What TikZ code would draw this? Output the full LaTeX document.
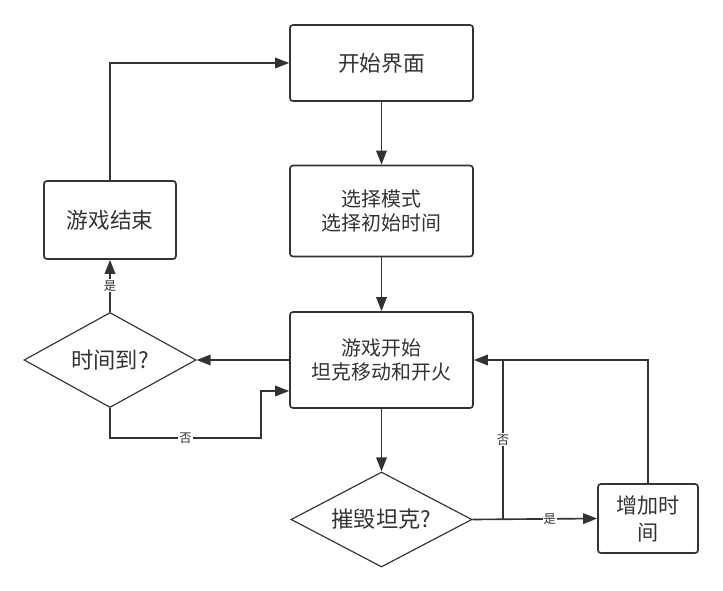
\documentclass[tikz,border=0pt]{standalone}
\usepackage{fontspec}
\newfontfamily\cjk{Noto Sans CJK SC}
\usetikzlibrary{arrows.meta, shapes.geometric, calc}

\begin{document}
\begin{tikzpicture}[
    x=0.03cm, y=-0.03cm,
    every node/.style={font=\cjk, text=ink},
    box/.style={draw=ink, line width=1.4pt, rounded corners=2.5pt,
        align=center, inner sep=2pt},
    decision/.style={diamond, draw=ink, line width=1pt, inner sep=0pt,
        aspect=1.9},
    flow/.style={draw=ink, line width=1.4pt,
        -{Triangle[length=12pt, width=9pt]}},
    lbl/.style={fill=white, inner sep=1pt, font=\cjk\fontsize{10.5pt}{12pt}\selectfont},
]

\definecolor{ink}{HTML}{333333}

\useasboundingbox (0,0) rectangle (723,591);

% ---------------------------------------------------------------- main column
\node[box, minimum width=5.49cm, minimum height=2.28cm,
    font=\cjk\fontsize{18.5pt}{22pt}\selectfont] (start) at (381.5,63) {开始界面};
\node[box, minimum width=5.49cm, minimum height=2.73cm,
    font=\cjk\fontsize{17pt}{20.5pt}\selectfont] (choose) at (381.5,211)
    {选择模式\\选择初始时间};
\node[box, minimum width=5.49cm, minimum height=2.88cm,
    font=\cjk\fontsize{17pt}{20.5pt}\selectfont] (play) at (381.5,360)
    {游戏开始\\坦克移动和开火};
\node[decision, minimum width=5.43cm, minimum height=2.85cm,
    font=\cjk\fontsize{19pt}{22pt}\selectfont] (destroy) at (381.5,519.5) {摧毁坦克?};

% ---------------------------------------------------------------- left side
\node[decision, minimum width=5.16cm, minimum height=2.85cm,
    font=\cjk\fontsize{19pt}{22pt}\selectfont] (timeup) at (110,360) {时间到?};
\node[box, minimum width=3.96cm, minimum height=2.34cm,
    font=\cjk\fontsize{18.5pt}{22pt}\selectfont] (gameover) at (110,220) {游戏结束};

% ---------------------------------------------------------------- right side
\node[box, minimum width=3.0cm, minimum height=2.07cm,
    font=\cjk\fontsize{18pt}{23pt}\selectfont] (addtime) at (648,518.5) {增加时\\间};

\coordinate (jn) at (503,519.5);
\coordinate (jtop) at (503,360);

% ---------------------------------------------------------------- connectors
\draw[flow] (start) -- (choose);
\draw[flow] (choose) -- (play);
\draw[flow] (play) -- (destroy);
\draw[flow] (play.west) -- (timeup.east);
\draw[flow] (timeup.north) -- node[lbl] {是} (gameover.south);
\draw[flow] (gameover.north) |- (start.west);
\draw[flow] (timeup.south) -- ++(0,30) -- node[lbl] {否} ++(151,0)
    |- ($(play.west)+(0,31)$);
\draw[flow] (destroy.east) -- node[lbl, pos=0.62] {是} (addtime.west);
\draw[draw=ink, line width=1.4pt] (addtime.north) |- (jtop);
\draw[flow] (jn) -- node[lbl] {否} (jtop) -- (play.east);

\end{tikzpicture}
\end{document}
